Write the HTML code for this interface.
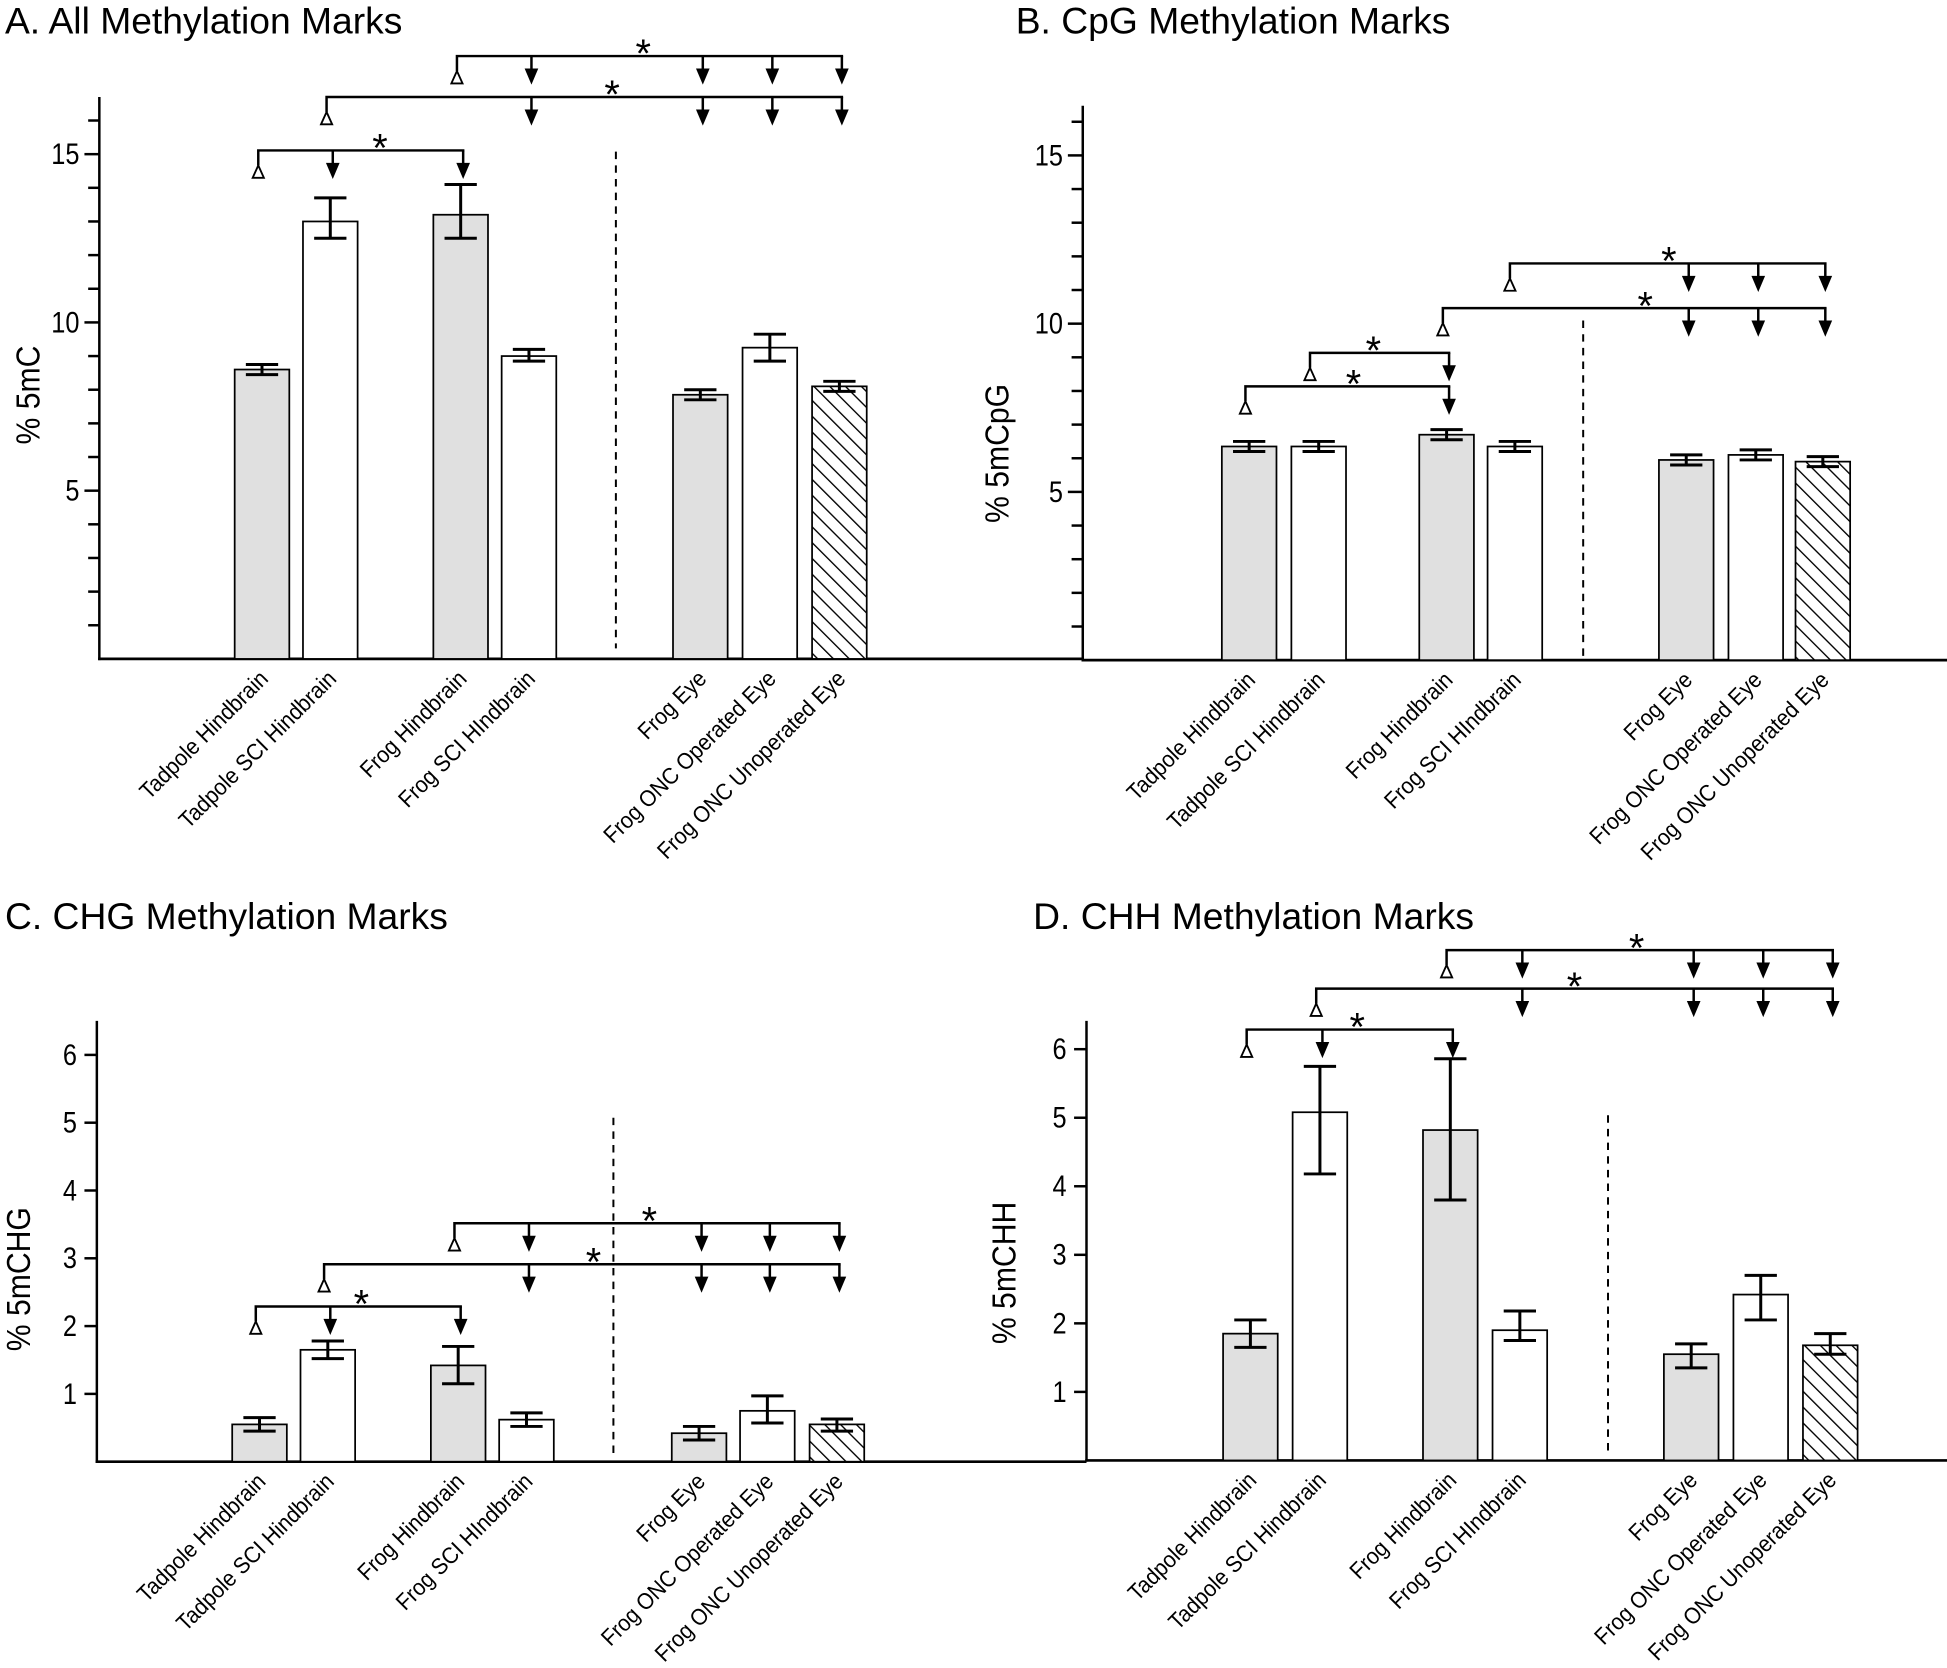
<!DOCTYPE html>
<html><head><meta charset="utf-8"><style>
html,body{margin:0;padding:0;background:#fff}
svg{display:block}
text{font-family:"Liberation Sans",Arial,sans-serif;fill:#000}
</style></head><body>
<svg id="fig" width="1947" height="1668" viewBox="0 0 1568 1343" xmlns="http://www.w3.org/2000/svg">
<defs>
<pattern id="hatch" patternUnits="userSpaceOnUse" width="9" height="9" patternTransform="rotate(-45)">
<rect width="9" height="9" fill="#fff"/><line x1="0" y1="0" x2="0" y2="9" stroke="#000" stroke-width="2.2"/>
</pattern>
</defs>
</svg>
<script>
const categories=["Tadpole Hindbrain","Tadpole SCI Hindbrain","Frog Hindbrain","Frog SCI HIndbrain","Frog Eye","Frog ONC Operated Eye","Frog ONC Unoperated Eye"];
const fills=["gray","white","gray","white","gray","white","hatch"];
// Panel A
const valuesA=[8.6,13.0,13.2,9.0,7.85,9.25,8.1];
const errLowA=[8.45,12.5,12.5,8.85,7.7,8.85,7.95];
const errHighA=[8.75,13.7,14.1,9.2,8.0,9.65,8.25];
const ticksA=[5,10,15];
// Panel B
const valuesB=[6.35,6.35,6.7,6.35,5.95,6.1,5.9];
const errLowB=[6.2,6.2,6.55,6.2,5.8,5.95,5.75];
const errHighB=[6.5,6.5,6.85,6.5,6.1,6.25,6.05];
const ticksB=[5,10,15];
// Panel C
const valuesC=[0.55,1.65,1.42,0.62,0.42,0.75,0.55];
const errLowC=[0.45,1.52,1.15,0.52,0.32,0.57,0.45];
const errHighC=[0.65,1.78,1.7,0.72,0.52,0.97,0.63];
const ticksC=[1,2,3,4,5,6];
// Panel D
const valuesD=[1.85,5.08,4.82,1.9,1.55,2.42,1.68];
const errLowD=[1.65,4.18,3.8,1.75,1.35,2.05,1.55];
const errHighD=[2.05,5.75,5.86,2.18,1.7,2.7,1.85];
const ticksD=[1,2,3,4,5,6];

const NS="http://www.w3.org/2000/svg";
const svg=document.getElementById('fig');
function mk(tag,attrs,parent){const e=document.createElementNS(NS,tag);for(const k in attrs)e.setAttribute(k,attrs[k]);(parent||svg).appendChild(e);return e;}

const panels=[
 {id:'a',title:'A. All Methylation Marks',tx:4,ty:27,ylab:'% 5mC',ylx:32,yly:318,ax:80,atop:78,y0:530.5,unit:27.1,xend:872,major:5,ticks:ticksA,
  centers:[211,266,371,426,564,620,676],dash:[496,122,522],vals:valuesA,lo:errLowA,hi:errHighA,
  brackets:[{s:2,y:45,a:[3,4,5,6],star:518},{s:1,y:78,a:[3,4,5,6],star:493},{s:0,y:121,a:[1,2],star:306}]},
 {id:'b',title:'B. CpG Methylation Marks',tx:818,ty:27,ylab:'% 5mCpG',ylx:812,yly:365,ax:872,atop:85,y0:531.5,unit:27.1,xend:1568,major:5,ticks:ticksB,
  centers:[1006,1062,1165,1220,1358,1414,1468],dash:[1275,258,530],vals:valuesB,lo:errLowB,hi:errHighB,
  brackets:[{s:3,y:212,a:[4,5,6],star:1344,sx:1216},{s:2,y:248,a:[4,5,6],star:1325},{s:1,y:284,a:[2],star:1106,sx:1055},{s:0,y:311,a:[2],star:1090}]},
 {id:'c',title:'C. CHG Methylation Marks',tx:4,ty:748,ylab:'% 5mCHG',ylx:24,yly:1030,ax:78,atop:822,y0:1177,unit:54.6,xend:875,major:1,ticks:ticksC,
  centers:[209,264,369,424,563,618,674],dash:[494,900,1175],vals:valuesC,lo:errLowC,hi:errHighC,
  brackets:[{s:2,y:985,a:[3,4,5,6],star:523},{s:1,y:1018,a:[3,4,5,6],star:478},{s:0,y:1052,a:[1,2],star:291}]},
 {id:'d',title:'D. CHH Methylation Marks',tx:832,ty:748,ylab:'% 5mCHH',ylx:818,yly:1025,ax:875,atop:822,y0:1176,unit:55.2,xend:1568,major:1,ticks:ticksD,
  centers:[1007,1063,1168,1224,1362,1418,1474],dash:[1295,898,1170],vals:valuesD,lo:errLowD,hi:errHighD,
  brackets:[{s:2,y:765,a:[3,4,5,6],star:1318},{s:1,y:796,a:[3,4,5,6],star:1268},{s:0,y:829,a:[1,2],star:1093}]}
];

panels.forEach(p=>{
 const g=mk('g',{});
 
 
 const yS=v=>p.y0-v*p.unit;
 const t=mk('text',{x:p.tx,y:p.ty,'font-size':30},g);t.textContent=p.title;
 
 
 const yl=mk('text',{x:0,y:0,'font-size':27,'text-anchor':'middle',transform:`translate(${p.ylx} ${p.yly}) rotate(-90) scale(0.9 1)`},g);yl.textContent=p.ylab;
 
 
 const ya=mk('line',{x1:p.ax,y1:p.atop,x2:p.ax,y2:p.y0+1,stroke:'#000','stroke-width':2},g);
 
 
 const xa=mk('line',{x1:p.ax-1,y1:p.y0,x2:p.xend,y2:p.y0,stroke:'#000','stroke-width':2.2},g);
 
 
 if(p.major===5){for(let v=1;v<=16;v++){const yy=yS(v);if(yy<p.atop)continue;
   const big=v%5===0;const tk=mk('line',{x1:p.ax-(big?12:9),y1:yy,x2:p.ax,y2:yy,stroke:'#000','stroke-width':2},g);
   
   }}
 else{p.ticks.forEach(v=>{const yy=yS(v);const tk=mk('line',{x1:p.ax-10,y1:yy,x2:p.ax,y2:yy,stroke:'#000','stroke-width':2},g);
   
   });}
 p.ticks.forEach(v=>{const tl=mk('text',{x:0,y:0,'font-size':24,'text-anchor':'end',transform:`translate(${p.ax-16} ${yS(v)+8}) scale(0.85 1)`},g);tl.textContent=v;
   
   });
 const dl=mk('line',{x1:p.dash[0],y1:p.dash[1],x2:p.dash[0],y2:p.dash[2],stroke:'#000','stroke-width':1.6,'stroke-dasharray':'6,5'},g);
 
 
 const bw=44;
 p.vals.forEach((v,i)=>{
  const cx=p.centers[i];const f=fills[i]==='gray'?'#e0e0e0':fills[i]==='hatch'?'url(#hatch)':'#fff';
  const r=mk('rect',{x:cx-bw/2,y:yS(v),width:bw,height:p.y0-yS(v),fill:f,stroke:'#000','stroke-width':1.4},g);
  
  
  const e=mk('path',{d:`M${cx} ${yS(p.lo[i])}V${yS(p.hi[i])}M${cx-13} ${yS(p.lo[i])}h26M${cx-13} ${yS(p.hi[i])}h26`,stroke:'#000','stroke-width':2.4,fill:'none'},g);
  
  
  const lx=cx+6,ly=p.y0+17;
  const lab=mk('text',{x:0,y:0,'font-size':18.5,'text-anchor':'end',transform:`translate(${lx} ${ly}) rotate(-45) scale(0.92 1)`},g);lab.textContent=categories[i];
  
  
 });
 p.brackets.forEach(b=>{
  const bg=mk('g',{},g);
  
  
  const sx=b.sx||p.centers[b.s]-3;
  const ex=Math.max(...b.a.map(k=>p.centers[k]))+3;
  mk('path',{d:`M${sx} ${b.y+12}V${b.y}H${ex}`,stroke:'#000','stroke-width':2,fill:'none'},bg);
  mk('path',{d:`M${sx} ${b.y+12}l-4.5 10h9z`,stroke:'#000','stroke-width':1.5,fill:'#fff'},bg);
  b.a.forEach(k=>{const ax=p.centers[k]+2;
   mk('path',{d:`M${ax} ${b.y}v12`,stroke:'#000','stroke-width':2},bg);
   mk('path',{d:`M${ax-5.5} ${b.y+10}h11l-5.5 13z`,fill:'#000'},bg);});
  const st=mk('text',{x:b.star,y:b.y+9,'font-size':32,'text-anchor':'middle'},bg);st.textContent='*';
  
  
 });
});
</script>
</body></html>
